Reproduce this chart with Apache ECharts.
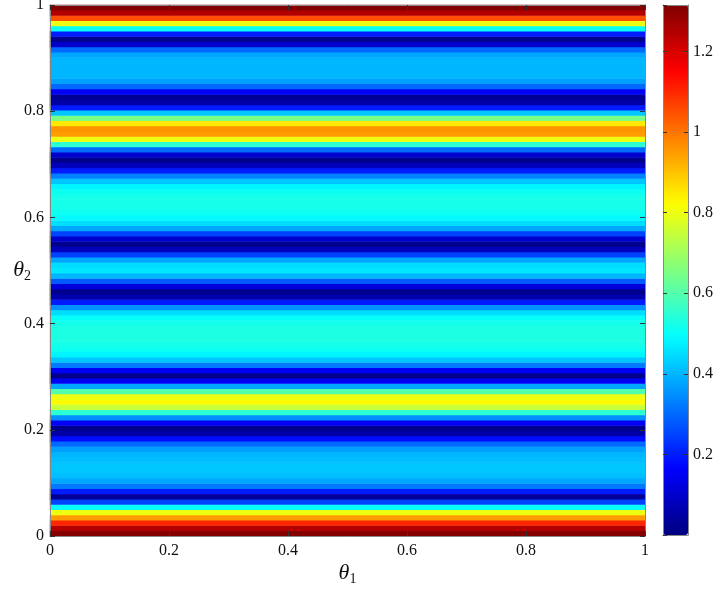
<!DOCTYPE html>
<html>
<head>
<meta charset="utf-8">
<script src="https://cdn.jsdelivr.net/npm/echarts@6/dist/echarts.min.js"></script>
<style>
  html, body { margin: 0; padding: 0; background: #fff; }
  #main { width: 714px; height: 590px; }
</style>
</head>
<body>
<div id="main"></div>
<script>
// theta2 rows (0 .. 1, step 0.01); the field does not change along theta1
var theta2 = [];
for (var k = 0; k <= 100; k++) theta2.push((k / 100).toFixed(2));

var intensity = [
  1.31, 1.25, 1.10, 0.95, 0.80, 0.50, 0.25, 0.03, 0.20, 0.32,
  0.38, 0.41, 0.42, 0.42, 0.41, 0.40, 0.37, 0.30, 0.18, 0.05,
  0.02, 0.15, 0.35, 0.55, 0.75, 0.82, 0.80, 0.60, 0.38, 0.15,
  0.02, 0.15, 0.32, 0.42, 0.48, 0.51, 0.52, 0.53, 0.53, 0.53,
  0.52, 0.50, 0.45, 0.35, 0.20, 0.06, 0.02, 0.12, 0.28, 0.40,
  0.46, 0.45, 0.38, 0.25, 0.08, 0.02, 0.10, 0.25, 0.38, 0.45,
  0.49, 0.51, 0.52, 0.52, 0.52, 0.51, 0.48, 0.42, 0.33, 0.20,
  0.08, 0.02, 0.10, 0.30, 0.55, 0.80, 0.95, 0.96, 0.85, 0.65,
  0.42, 0.20, 0.05, 0.03, 0.15, 0.30, 0.37, 0.40, 0.40, 0.40,
  0.40, 0.38, 0.30, 0.10, 0.02, 0.20, 0.50, 0.80, 1.05, 1.25,
  1.31
];

var axisTicks = [0, 0.2, 0.4, 0.6, 0.8, 1];
var colorMin = 0;
var colorMax = 1.315;

// jet colormap, 64 levels
function jet(n) {
  var out = [];
  for (var i = 0; i < n; i++) {
    var t = i / (n - 1);
    var c = function (v) { return Math.round(Math.max(0, Math.min(1, v)) * 255); };
    var r = c(1.5 - Math.abs(4 * t - 3));
    var g = c(1.5 - Math.abs(4 * t - 2));
    var b = c(1.5 - Math.abs(4 * t - 1));
    out.push('rgb(' + r + ',' + g + ',' + b + ')');
  }
  return out;
}

var heatData = intensity.map(function (v, i) { return [0, i, v]; });

var font = 'Liberation Serif';
var labelStyle = { fontFamily: font, fontSize: 16, color: '#111' };
var nameRich = {
  i: { fontFamily: font, fontStyle: 'italic', fontSize: 22, color: '#111' },
  s: { fontFamily: font, fontSize: 14, color: '#111', verticalAlign: 'bottom', padding: [12, 0, 0, 0] }
};
var lineStyle = { color: '#888', width: 1 };
var tickStyle = { color: '#333', width: 1 };

var myChart = echarts.init(document.getElementById('main'));
var option = {
  animation: false,
  grid: [
    { left: 50, top: 5, width: 595, height: 531, outerBoundsMode: 'none' },
    { left: 50, top: 5, width: 595, height: 531, outerBoundsMode: 'none' },
    { left: 663, top: 5, width: 25, height: 530, outerBoundsMode: 'none' }
  ],
  xAxis: [
    { type: 'category', gridIndex: 0, data: ['0'], show: false },
    {
      type: 'value', gridIndex: 1, min: 0, max: 1, interval: 0.2, position: 'bottom', z: 10,
      name: '{i|θ}{s|1}', nameLocation: 'middle', nameGap: 24, nameMoveOverlap: false,
      nameTextStyle: { rich: nameRich },
      axisLine: { onZero: false, lineStyle: lineStyle },
      axisTick: { inside: true, length: 5, lineStyle: tickStyle },
      axisLabel: Object.assign({ margin: 7 }, labelStyle),
      splitLine: { show: false }
    },
    {
      type: 'value', gridIndex: 1, min: 0, max: 1, interval: 0.2, position: 'top', z: 10,
      axisLine: { onZero: false, lineStyle: lineStyle },
      axisTick: { inside: true, length: 5, lineStyle: tickStyle },
      axisLabel: { show: false }, splitLine: { show: false }
    },
    {
      type: 'value', gridIndex: 2, min: 0, max: 1, position: 'bottom', z: 10,
      axisLine: { onZero: false, lineStyle: lineStyle }, axisTick: { show: false },
      axisLabel: { show: false }, splitLine: { show: false }
    },
    {
      type: 'value', gridIndex: 2, min: 0, max: 1, position: 'top', z: 10,
      axisLine: { onZero: false, lineStyle: lineStyle }, axisTick: { show: false },
      axisLabel: { show: false }, splitLine: { show: false }
    }
  ],
  yAxis: [
    { type: 'category', gridIndex: 0, data: theta2, show: false },
    {
      type: 'value', gridIndex: 1, min: 0, max: 1, interval: 0.2, position: 'left', z: 10,
      name: '{i|θ}{s|2}', nameLocation: 'middle', nameGap: 19, nameRotate: 0, nameMoveOverlap: false,
      nameTextStyle: { rich: nameRich },
      axisLine: { onZero: false, lineStyle: lineStyle },
      axisTick: { inside: true, length: 5, lineStyle: tickStyle },
      axisLabel: Object.assign({ margin: 6 }, labelStyle),
      splitLine: { show: false }
    },
    {
      type: 'value', gridIndex: 1, min: 0, max: 1, interval: 0.2, position: 'right', z: 10,
      axisLine: { onZero: false, lineStyle: lineStyle },
      axisTick: { inside: true, length: 5, lineStyle: tickStyle },
      axisLabel: { show: false }, splitLine: { show: false }
    },
    {
      type: 'value', gridIndex: 2, min: colorMin, max: colorMax, interval: 0.2, position: 'right', z: 10,
      axisLine: { onZero: false, lineStyle: lineStyle },
      axisTick: { inside: true, length: 4, lineStyle: tickStyle },
      axisLabel: Object.assign({ margin: 5, showMinLabel: false, showMaxLabel: false }, labelStyle),
      splitLine: { show: false }
    },
    {
      type: 'value', gridIndex: 2, min: colorMin, max: colorMax, interval: 0.2, position: 'left', z: 10,
      axisLine: { onZero: false, lineStyle: lineStyle },
      axisTick: { inside: true, length: 4, lineStyle: tickStyle },
      axisLabel: { show: false }, splitLine: { show: false }
    }
  ],
  visualMap: {
    type: 'continuous',
    seriesIndex: 0,
    min: colorMin,
    max: colorMax,
    calculable: false,
    orient: 'vertical',
    left: 663,
    top: 5,
    padding: 0,
    itemWidth: 25,
    itemHeight: 530,
    text: null,
    showLabel: false,
    z: 1,
    inRange: { color: jet(64) }
  },
  series: [
    {
      type: 'heatmap',
      xAxisIndex: 0,
      yAxisIndex: 0,
      data: heatData,
      progressive: 0,
      itemStyle: { borderWidth: 0 },
      emphasis: { disabled: true }
    }
  ]
};
myChart.setOption(option);
</script>
</body>
</html>
